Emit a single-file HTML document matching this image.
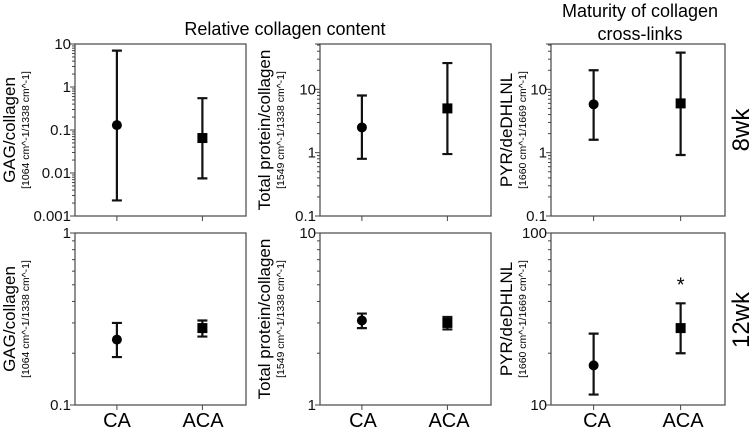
<!DOCTYPE html>
<html><head><meta charset="utf-8"><style>
body{margin:0;background:#fff;width:752px;height:432px;overflow:hidden}
svg{display:block;font-family:"Liberation Sans",Arial,sans-serif}
</style></head><body>
<svg id="fig" width="752" height="432" viewBox="0 0 752 432">
<text x="285" y="35" font-size="18" text-anchor="middle">Relative collagen content</text>
<text x="640" y="17" font-size="18" text-anchor="middle">Maturity of collagen</text>
<text x="640" y="40" font-size="18" text-anchor="middle">cross-links</text>
<text transform="translate(749,130) rotate(-90)" font-size="24" text-anchor="middle">8wk</text>
<text transform="translate(749,320) rotate(-90)" font-size="24" text-anchor="middle">12wk</text>
<text x="117" y="427" font-size="20" text-anchor="middle">CA</text>
<text x="203" y="427" font-size="20" text-anchor="middle">ACA</text>
<text x="363" y="427" font-size="20" text-anchor="middle">CA</text>
<text x="449" y="427" font-size="20" text-anchor="middle">ACA</text>
<text x="597" y="427" font-size="20" text-anchor="middle">CA</text>
<text x="683" y="427" font-size="20" text-anchor="middle">ACA</text>
</svg>
<script>
const groups = ["CA","ACA"];
// per-panel data: mean, low, high for [CA, ACA]
const gagMean8 = [0.13, 0.065], gagLow8 = [0.0023, 0.0075], gagHigh8 = [7, 0.55];
const tpMean8 = [2.5, 5], tpLow8 = [0.8, 0.95], tpHigh8 = [8, 26];
const pyrMean8 = [5.8, 6], pyrLow8 = [1.6, 0.92], pyrHigh8 = [20, 38];
const gagMean12 = [0.24, 0.28], gagLow12 = [0.19, 0.25], gagHigh12 = [0.30, 0.31];
const tpMean12 = [3.1, 3.0], tpLow12 = [2.8, 2.75], tpHigh12 = [3.4, 3.25];
const pyrMean12 = [17, 28], pyrLow12 = [11.5, 20], pyrHigh12 = [26, 39];
const ticks8gag = [10,1,0.1,0.01,0.001], tickLab8gag = ["10","1","0.1","0.01","0.001"];
const ticks8 = [10,1,0.1], tickLab8 = ["10","1","0.1"];
const ticks12gag = [1,0.1], tickLab12gag = ["1","0.1"];
const ticks12tp = [10,1], tickLab12tp = ["10","1"];
const ticks12pyr = [100,10], tickLab12pyr = ["100","10"];

const svg = document.getElementById('fig');
const NS = "http://www.w3.org/2000/svg";
function mk(tag, attrs){const e=document.createElementNS(NS,tag);for(const k in attrs)e.setAttribute(k,attrs[k]);svg.appendChild(e);return e;}

function panel(p){
  const {x0,x1,y0,y1,ymin,ymax,mean,low,high,ticks,labs,lab,sub,labX,name} = p;
  const lmin=Math.log10(ymin), lmax=Math.log10(ymax);
  const sy=v=>y1-(Math.log10(v)-lmin)/(lmax-lmin)*(y1-y0);
  const xs=[x0+(x1-x0)*0.245, x0+(x1-x0)*0.745];
  const fr=mk('rect',{x:x0,y:y0,width:x1-x0,height:y1-y0,fill:'none',stroke:'#555','stroke-width':1.3});
  
  
  for(let d=Math.floor(lmin); d<Math.ceil(lmax); d++){
    for(let m=1;m<10;m++){const v=m*Math.pow(10,d); if(v<ymin-1e-12||v>ymax+1e-9)continue;
      const t=mk('line',{x1:x0,x2:x0-(m===1?5:3),y1:sy(v),y2:sy(v),stroke:'#444','stroke-width':1});
      
      
    }
  }
  {const t=mk('line',{x1:x0,x2:x0-5,y1:sy(ymax),y2:sy(ymax),stroke:'#444'});}
  ticks.forEach((v,i)=>{
    const t=mk('text',{x:x0-4,y:sy(v)+5,'font-size':15,'text-anchor':'end',fill:'#111'});
    t.textContent=labs[i];
    
    
  });
  xs.forEach(x=>{const t=mk('line',{x1:x,x2:x,y1:y1,y2:y1+5,stroke:'#444'});});
  const cy=(y0+y1)/2;
  const a=mk('text',{transform:`translate(${labX},${cy}) rotate(-90)`,'font-size':17,'text-anchor':'middle'});
  a.textContent=lab;
  
  
  const b=mk('text',{transform:`translate(${labX+14},${cy}) rotate(-90)`,'font-size':10.5,'text-anchor':'middle'});
  b.textContent=sub;
  
  
  groups.forEach((g,i)=>{
    const x=xs[i];
    const e=mk('path',{d:`M${x},${sy(low[i])}V${sy(high[i])}M${x-5},${sy(low[i])}H${x+5}M${x-5},${sy(high[i])}H${x+5}`,stroke:'#111','stroke-width':2.2,fill:'none'});
    
    
    let m;
    if(i===0) m=mk('circle',{cx:x,cy:sy(mean[i]),r:5,fill:'#000'});
    else m=mk('rect',{x:x-5,y:sy(mean[i])-5,width:10,height:10,fill:'#000'});
    
    
  });
  return {xs,sy};
}
const G='[1064 cm^-1/1338 cm^-1]', T='[1549 cm^-1/1338 cm^-1]', P='[1660 cm^-1/1669 cm^-1]';
panel({name:'gag-8wk',x0:75,x1:246,y0:44,y1:216,ymin:0.001,ymax:10,mean:gagMean8,low:gagLow8,high:gagHigh8,ticks:ticks8gag,labs:tickLab8gag,lab:'GAG/collagen',sub:G,labX:15});
panel({name:'tp-8wk',x0:320,x1:491,y0:44,y1:216,ymin:0.1,ymax:52,mean:tpMean8,low:tpLow8,high:tpHigh8,ticks:ticks8,labs:tickLab8,lab:'Total protein/collagen',sub:T,labX:270});
panel({name:'pyr-8wk',x0:551,x1:725,y0:44,y1:216,ymin:0.1,ymax:52,mean:pyrMean8,low:pyrLow8,high:pyrHigh8,ticks:ticks8,labs:tickLab8,lab:'PYR/deDHLNL',sub:P,labX:512});
panel({name:'gag-12wk',x0:75,x1:246,y0:233,y1:405,ymin:0.1,ymax:1,mean:gagMean12,low:gagLow12,high:gagHigh12,ticks:ticks12gag,labs:tickLab12gag,lab:'GAG/collagen',sub:G,labX:15});
panel({name:'tp-12wk',x0:320,x1:491,y0:233,y1:405,ymin:1,ymax:10,mean:tpMean12,low:tpLow12,high:tpHigh12,ticks:ticks12tp,labs:tickLab12tp,lab:'Total protein/collagen',sub:T,labX:270});
const pp=panel({name:'pyr-12wk',x0:551,x1:725,y0:233,y1:405,ymin:10,ymax:100,mean:pyrMean12,low:pyrLow12,high:pyrHigh12,ticks:ticks12pyr,labs:tickLab12pyr,lab:'PYR/deDHLNL',sub:P,labX:512});
const st=mk('text',{x:pp.xs[1],y:pp.sy(pyrHigh12[1])-12,'font-size':20,'text-anchor':'middle'});
st.textContent='*';


</script>
</body></html>
